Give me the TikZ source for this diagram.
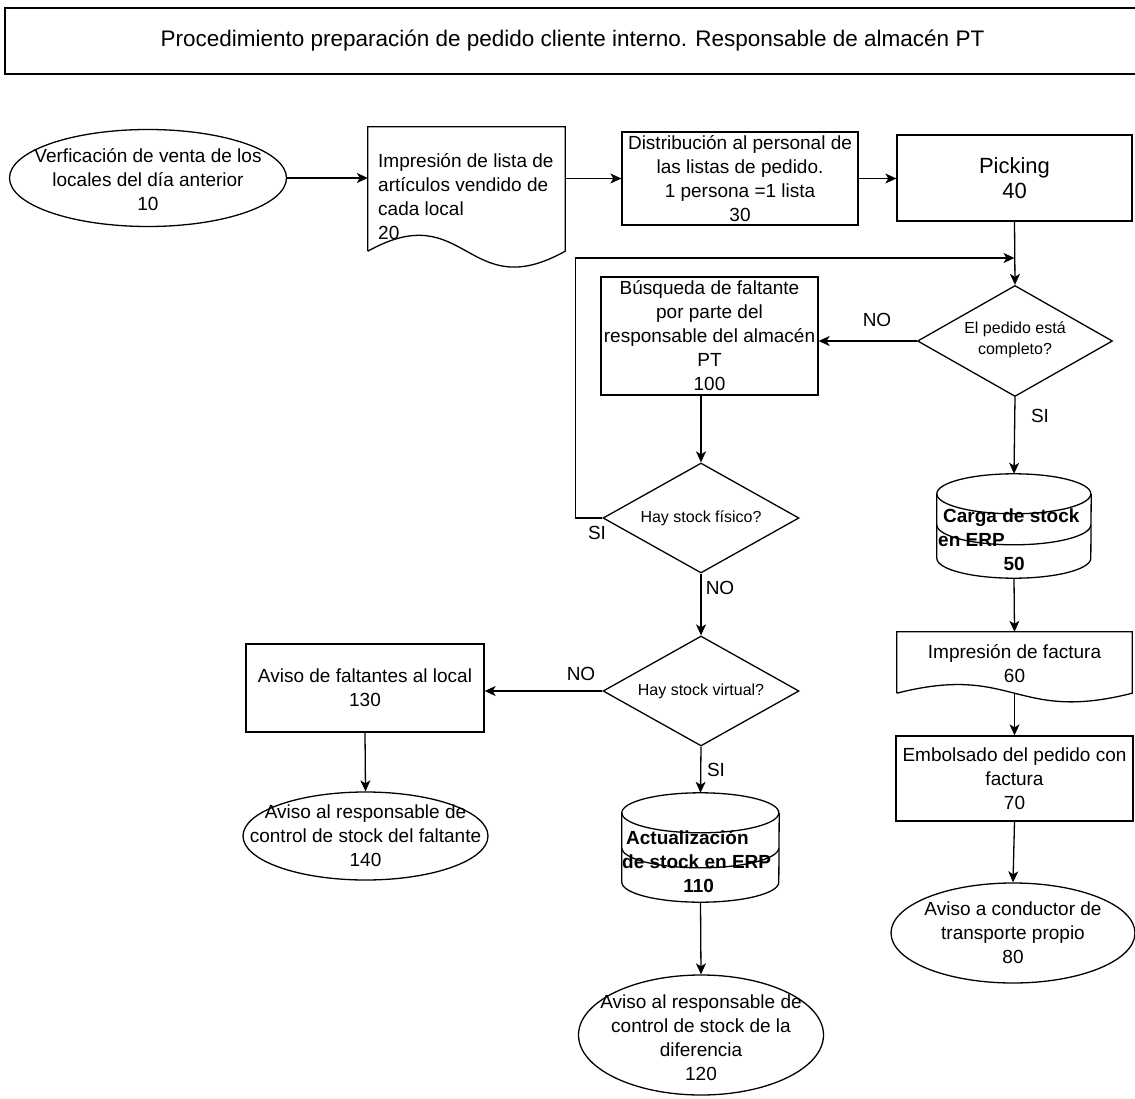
\documentclass[tikz,border=0pt]{standalone}
\usepackage{fontspec}
\setmainfont{Liberation Sans}
\usepackage{tikz}
\usetikzlibrary{shapes,shapes.geometric}
\usetikzlibrary{arrows.meta}
\usetikzlibrary{calc}
\tikzset{
	procbox/.style={rectangle, draw=black, line width=1.3pt, inner sep=0pt, align=center, font=\fontsize{19}{24}\selectfont},
	termnode/.style={ellipse, draw=black, line width=1.3pt, inner sep=0pt},
	decnode/.style={diamond, draw=black, line width=1.3pt, inner sep=0pt},
	freenode/.style={rectangle, inner sep=0pt},
	txt/.style={align=center, inner sep=0pt, font=\fontsize{19}{24}\selectfont},
	boldtxt/.style={align=left, inner sep=0pt, font=\bfseries\fontsize{19}{24}\selectfont},
	smalltxt/.style={align=center, inner sep=0pt, font=\fontsize{16}{21}\selectfont},
	flow/.style={line width=1.3pt, -{Stealth[length=11pt,width=10pt,inset=3pt]}},
	outline/.style={line width=1.3pt}
}

\begin{document}
\begin{tikzpicture}[x=1pt,y=-1pt]
	\useasboundingbox (0,0) rectangle (1135,1099);
	% titulo
	\node[procbox, minimum width=1135pt, minimum height=66pt, font=\fontsize{22.5}{24}\selectfont] (title) at (572.5,41) {Procedimiento preparación de pedido cliente interno. Responsable de almacén PT};

	% fila superior
	\node[termnode, minimum width=277pt, minimum height=97pt] (n10) at (148,178) {};
	\node[txt] (t10) at (148,180) {Verficación de venta de los\\locales del día anterior\\10};

	\node[freenode, minimum width=197pt, minimum height=124pt] (n20) at (466.5,189) {};
	\draw[outline] (n20.south west) -- (n20.north west) -- (n20.north east) -- (n20.south east)
		.. controls +(-98.5,55) and +(98.5,-55) .. (n20.south west);
	\node[txt, align=left, anchor=west] (t20) at (378,197) {Impresión de lista de\\artículos vendido de\\cada local\\20};

	\node[procbox, minimum width=236pt, minimum height=93pt] (n30) at (740,178.5) {Distribución al personal de\\las listas de pedido.\\1 persona =1 lista\\30};

	\node[procbox, minimum width=235pt, minimum height=86pt, font=\fontsize{22}{25}\selectfont] (n40) at (1014.5,178) {Picking\\40};

	% decisiones
	\node[decnode, minimum width=195pt, minimum height=111pt] (d1) at (1015,341) {};
	\node[smalltxt] (td1) at (1015,340) {El pedido está\\completo?};

	\node[procbox, minimum width=217pt, minimum height=118pt] (n100) at (709.5,336) {Búsqueda de faltante\\por parte del\\responsable del almacén\\PT\\100};

	\node[decnode, minimum width=196pt, minimum height=110pt] (d2) at (701,518) {};
	\node[smalltxt] (td2) at (701,518) {Hay stock físico?};

	\node[decnode, minimum width=196pt, minimum height=110pt] (d3) at (701,691) {};
	\node[smalltxt] (td3) at (701,691) {Hay stock virtual?};

	\node[procbox, minimum width=238pt, minimum height=88pt] (n130) at (365,688) {Aviso de faltantes al local\\130};

	\node[termnode, minimum width=245pt, minimum height=88pt] (n140) at (365.5,836) {};
	\node[txt] (t140) at (365.5,836) {Aviso al responsable de\\control de stock del faltante\\140};

	% cilindro 110
	\node[freenode, minimum width=157pt, minimum height=109pt] (n110) at (700.5,847.5) {};
	\draw[outline] ($(n110.north west)+(0,20)$) arc[start angle=180, end angle=-180, x radius=78.5, y radius=20];
	\draw[outline] ($(n110.north west)+(0,20)$) -- ($(n110.south west)+(0,-20)$)
		arc[start angle=180, end angle=0, x radius=78.5, y radius=20] -- ($(n110.north east)+(0,20)$);
	\draw[outline] ($(n110.north west)+(0,55)$) arc[start angle=180, end angle=0, x radius=78.5, y radius=20];
	\node[boldtxt, anchor=west] (t110) at (622,862) {\hspace*{4pt}Actualización\\de stock en ERP\\\makebox[153pt]{110}};

	\node[termnode, minimum width=245pt, minimum height=120pt] (n120) at (701,1035) {};
	\node[txt] (t120) at (701,1038) {Aviso al responsable de\\control de stock de la\\diferencia\\120};

	% columna derecha
	\node[freenode, minimum width=154pt, minimum height=104pt] (n50) at (1014,526) {};
	\draw[outline] ($(n50.north west)+(0,20)$) arc[start angle=180, end angle=-180, x radius=77, y radius=20];
	\draw[outline] ($(n50.north west)+(0,20)$) -- ($(n50.south west)+(0,-20)$)
		arc[start angle=180, end angle=0, x radius=77, y radius=20] -- ($(n50.north east)+(0,20)$);
	\draw[outline] ($(n50.north west)+(0,51)$) arc[start angle=180, end angle=0, x radius=77, y radius=20];
	\node[boldtxt, anchor=west] (t50) at (938,540) {\hspace*{5pt}Carga de stock\\en ERP\\\makebox[152pt]{50}};

	\node[freenode, minimum width=235pt, minimum height=61pt] (n60) at (1014.5,662.5) {};
	\draw[outline] (n60.south west) -- (n60.north west) -- (n60.north east) -- (n60.south east)
		.. controls +(-117.5,30) and +(117.5,-30) .. (n60.south west);
	\node[txt] (t60) at (1014.5,664) {Impresión de factura\\60};

	\node[procbox, minimum width=237pt, minimum height=85pt] (n70) at (1014.5,778.5) {Embolsado del pedido con\\factura\\70};

	\node[termnode, minimum width=244pt, minimum height=100pt] (n80) at (1013,933) {};
	\node[txt] (t80) at (1013,933) {Aviso a conductor de\\transporte propio\\80};

	% conectores
	\draw[flow] (n10.east) -- (n10.east -| n20.west);
	\draw[flow] (n30.west -| n20.east) -- (n30.west);
	\draw[flow] (n30.east) -- (n30.east -| n40.west);
	\draw[flow] (n40.south) -- (d1.north);
	\coordinate (merge) at (n40.south |- 0,258);
	\draw[flow] (d2.west) -- ++(-27,0) |- (merge);
	\draw[flow] (d1.west) -- (d1.west -| n100.east);
	\draw[flow] (d1.south) -- (n50.north);
	\draw[flow] (d2.north |- n100.south) -- (d2.north);
	\draw[flow] (d2.south) -- (d3.north);
	\draw[flow] (d3.west) -- (d3.west -| n130.east);
	\draw[flow] (d3.south) -- (n110.north);
	\draw[flow] (n130.south) -- (n140.north);
	\draw[flow] (n110.south) -- (n120.north);
	\draw[flow] (n50.south) -- (n60.north);
	\draw[flow] (n60.south) -- (n70.north);
	\draw[flow] (n70.south) -- (n80.north);

	% etiquetas SI / NO
	\node[txt] (no1) at (877,320) {NO};
	\node[txt] (si1) at (1040,416) {SI};
	\node[txt] (si2) at (597,533) {SI};
	\node[txt] (no2) at (720,588) {NO};
	\node[txt] (no3) at (581,674) {NO};
	\node[txt] (si3) at (716,770) {SI};
\end{tikzpicture}
\end{document}
